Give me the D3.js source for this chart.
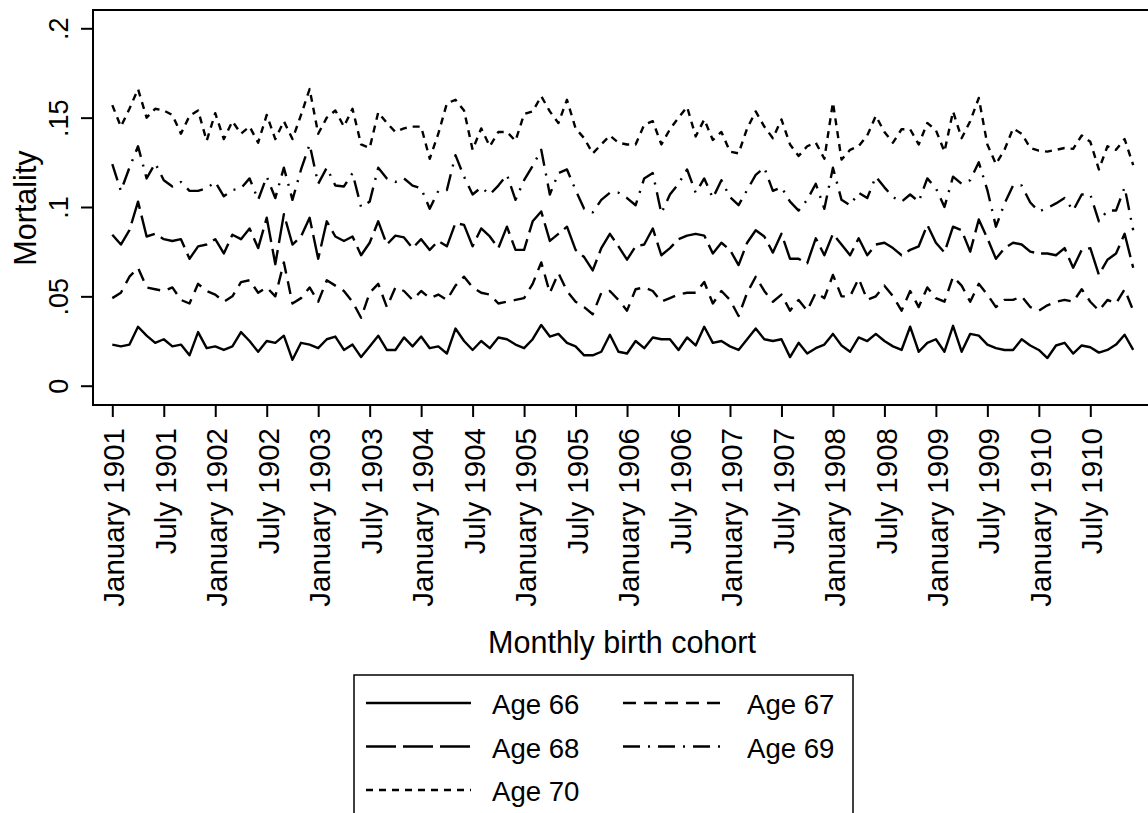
<!DOCTYPE html>
<html>
<head>
<meta charset="utf-8">
<script src="https://cdn.jsdelivr.net/npm/d3@7"></script>
<style>
  body { margin: 0; background: #fff; }
  text { font-family: "Liberation Sans", Arial, sans-serif; fill: #000; }
</style>
</head>
<body>
<svg id="chart"></svg>
<script>
var width = 1148;
var height = 813;

// tick labels every 6 months, Jan 1901 .. Jul 1910
var tickLabels = ["January 1901", "July 1901", "January 1902", "July 1902", "January 1903",
  "July 1903", "January 1904", "July 1904", "January 1905", "July 1905", "January 1906",
  "July 1906", "January 1907", "July 1907", "January 1908", "July 1908", "January 1909",
  "July 1909", "January 1910", "July 1910"];
var tickMonths = [0, 6, 12, 18, 24, 30, 36, 42, 48, 54, 60, 66, 72, 78, 84, 90, 96, 102, 108, 114];
var yTicks = [0, .05, .1, .15, .2];

// monthly cohorts, Jan 1901 - Dec 1910 (120 months)
var age66 = [.023,.022,.023,.033,.028,.024,.026,.022,.023,.017,.030,.021,.022,.020,.022,.030,.025,.019,.025,.024,
  .028,.0145,.024,.023,.021,.026,.0275,.020,.023,.016,.022,.028,.020,.020,.027,.022,.0275,.021,.022,.018,
  .032,.025,.020,.025,.021,.027,.026,.023,.021,.026,.034,.0275,.029,.024,.022,.017,.017,.019,.0285,.019,
  .018,.025,.021,.027,.026,.026,.020,.027,.0225,.033,.024,.025,.022,.020,.026,.032,.026,.025,.026,.016,
  .024,.018,.021,.023,.029,.0225,.019,.027,.025,.029,.025,.022,.020,.033,.019,.024,.026,.019,.0335,.019,
  .029,.028,.023,.021,.020,.020,.026,.0225,.020,.0155,.0225,.024,.018,.0225,.0215,.0185,.020,.023,.0285,.020];
var age67 = [.049,.052,.061,.066,.055,.054,.053,.055,.048,.046,.057,.053,.051,.047,.050,.058,.059,.052,.055,.050,
  .069,.046,.049,.055,.047,.059,.056,.053,.047,.038,.052,.057,.044,.055,.053,.048,.053,.049,.051,.048,
  .056,.061,.055,.052,.051,.046,.047,.048,.049,.057,.069,.052,.063,.053,.047,.044,.040,.052,.053,.048,
  .042,.054,.055,.053,.047,.049,.051,.052,.052,.058,.046,.053,.048,.039,.052,.061,.053,.047,.051,.042,
  .048,.042,.052,.049,.062,.050,.050,.060,.048,.050,.056,.050,.042,.053,.044,.055,.049,.047,.061,.056,
  .047,.057,.051,.044,.048,.048,.050,.044,.042,.045,.047,.048,.047,.054,.047,.042,.048,.046,.054,.042];
var age68 = [.0845,.079,.087,.103,.0835,.085,.082,.081,.082,.071,.078,.079,.082,.074,.0845,.082,.088,.077,.094,.068,
  .096,.079,.0835,.094,.071,.092,.0835,.081,.0835,.073,.080,.092,.079,.084,.083,.077,.082,.076,.081,.078,
  .091,.090,.078,.088,.0835,.077,.089,.076,.076,.092,.0975,.081,.085,.089,.076,.072,.0645,.077,.085,.078,
  .0705,.078,.079,.088,.073,.077,.082,.084,.085,.084,.074,.080,.076,.0675,.080,.087,.0835,.0745,.085,.071,
  .071,.0685,.0825,.073,.085,.079,.073,.0825,.073,.079,.080,.077,.073,.076,.078,.090,.080,.0745,.089,.087,
  .075,.093,.0825,.071,.077,.080,.079,.075,.074,.074,.073,.077,.066,.076,.077,.062,.0705,.074,.085,.066];
var age69 = [.124,.109,.122,.134,.116,.1245,.115,.1115,.114,.109,.109,.1105,.114,.106,.1095,.1105,.116,.104,.117,.105,
  .122,.104,.121,.135,.113,.122,.112,.1115,.119,.100,.103,.122,.116,.114,.116,.112,.1105,.099,.109,.1095,
  .129,.117,.107,.111,.107,.112,.118,.104,.115,.123,.132,.107,.119,.121,.1095,.099,.097,.104,.108,.108,
  .105,.101,.116,.119,.0965,.107,.113,.121,.108,.116,.105,.115,.1055,.101,.1095,.118,.122,.109,.111,.103,
  .098,.104,.113,.099,.122,.104,.101,.108,.105,.117,.111,.1055,.103,.107,.103,.116,.1105,.100,.117,.113,
  .115,.125,.1095,.089,.102,.112,.112,.1025,.0975,.0995,.102,.105,.098,.107,.107,.092,.098,.098,.111,.087];
var age70 = [.157,.145,.155,.166,.150,.155,.154,.1515,.141,.151,.154,.137,.1525,.138,.148,.141,.145,.136,.1515,.138,
  .148,.138,.1515,.166,.141,.150,.154,.145,.155,.135,.133,.153,.147,.142,.144,.145,.145,.127,.141,.158,
  .160,.154,.132,.144,.134,.142,.142,.137,.152,.1535,.162,.1535,.147,.160,.144,.1385,.130,.135,.140,.136,
  .135,.135,.146,.148,.135,.1435,.150,.156,.1395,.149,.1375,.142,.131,.130,.144,.1535,.145,.1385,.149,.135,
  .1285,.134,.136,.127,.1585,.1265,.132,.134,.140,.151,.142,.136,.1435,.1435,.135,.147,.143,.131,.1535,.1385,
  .148,.161,.135,.124,.132,.144,.141,.133,.1315,.131,.132,.133,.1325,.140,.1365,.121,.134,.132,.138,.1235];

var seriesNames = ["Age 66", "Age 67", "Age 68", "Age 69", "Age 70"];
var seriesValues = [age66, age67, age68, age69, age70];
var dashes = ["none", "13,8", "30,7", "17,8,2,8", "7,6"];

var series = seriesNames.map(function(name, i) {
  return { name: name, values: seriesValues[i], dash: dashes[i] };
});

var svg = d3.select("#chart")
    .attr("width", width)
    .attr("height", height);

svg.append("rect")
    .attr("width", width)
    .attr("height", height)
    .attr("fill", "#fff");

var xScale = d3.scaleLinear()
    .domain([0, 119])
    .range([112.3, 1133.2]);

var yScale = d3.scaleLinear()
    .domain([0, .2])
    .range([385.7, 28.3]);

// plot frame (right side runs past the picture)
svg.append("rect")
    .attr("x", 93)
    .attr("y", 10)
    .attr("width", 1100)
    .attr("height", 395)
    .attr("fill", "none")
    .attr("stroke", "#000")
    .attr("stroke-width", 2);

var line = d3.line()
    .x(function(d, i) { return xScale(i); })
    .y(function(d) { return yScale(d); });

svg.append("g")
  .selectAll("path")
  .data(series)
  .enter()
  .append("path")
    .attr("d", function(d) { return line(d.values); })
    .attr("fill", "none")
    .attr("stroke", "#000")
    .attr("stroke-width", 2.4)
    .attr("stroke-linejoin", "round")
    .attr("stroke-dasharray", function(d) { return d.dash; });

// y axis
var yAxis = d3.axisLeft(yScale)
    .tickValues(yTicks)
    .tickSize(12)
    .tickFormat(function(d) { return d === 0 ? "0" : String(d).replace(/^0/, ""); });

var yg = svg.append("g")
    .attr("transform", "translate(93,0)")
    .call(yAxis);
yg.select(".domain").remove();
yg.selectAll("line").attr("stroke", "#000").attr("stroke-width", 2);
yg.selectAll("text")
    .attr("x", null)
    .attr("dy", null)
    .attr("transform", "translate(-25,0) rotate(-90)")
    .style("text-anchor", "middle")
    .style("font-size", "27px")
    .style("font-family", "'Liberation Sans', Arial, sans-serif")
    .attr("fill", "#000");

// x axis
var xAxis = d3.axisBottom(xScale)
    .tickValues(tickMonths)
    .tickSize(12)
    .tickFormat(function(d, i) { return tickLabels[i]; });

var xg = svg.append("g")
    .attr("transform", "translate(0,405)")
    .call(xAxis);
xg.select(".domain").remove();
xg.selectAll("line").attr("stroke", "#000").attr("stroke-width", 2);
xg.selectAll("text")
    .attr("y", null)
    .attr("dy", "0.36em")
    .attr("transform", "translate(1,23) rotate(-90)")
    .style("text-anchor", "end")
    .style("font-size", "29.5px")
    .style("font-family", "'Liberation Sans', Arial, sans-serif")
    .attr("fill", "#000");

// axis titles
svg.append("text")
    .attr("x", 622)
    .attr("y", 653)
    .style("text-anchor", "middle")
    .style("font-size", "30.5px")
    .text("Monthly birth cohort");

svg.append("text")
    .attr("transform", "rotate(-90)")
    .attr("x", -208)
    .attr("y", 36)
    .style("text-anchor", "middle")
    .style("font-size", "30.5px")
    .text("Mortality");

// legend
var legend = svg.append("g");
legend.append("rect")
    .attr("x", 354)
    .attr("y", 675)
    .attr("width", 499)
    .attr("height", 160)
    .attr("fill", "#fff")
    .attr("stroke", "#000")
    .attr("stroke-width", 1.5);

var legendPos = [
  { x: 366, y: 703 }, { x: 623, y: 703 },
  { x: 366, y: 746.5 }, { x: 623, y: 746.5 },
  { x: 366, y: 790 }
];

var items = legend.selectAll("g.item")
  .data(series)
  .enter()
  .append("g")
    .attr("class", "item")
    .attr("transform", function(d, i) { return "translate(" + legendPos[i].x + "," + legendPos[i].y + ")"; });

items.append("line")
    .attr("x1", 0)
    .attr("x2", 105)
    .attr("stroke", "#000")
    .attr("stroke-width", 2.4)
    .attr("stroke-dasharray", function(d) { return d.dash; });

items.append("text")
    .attr("x", function(d, i) { return i % 2 === 0 ? 126 : 124; })
    .attr("y", 11)
    .style("font-size", "27.6px")
    .text(function(d) { return d.name; });
</script>
</body>
</html>
